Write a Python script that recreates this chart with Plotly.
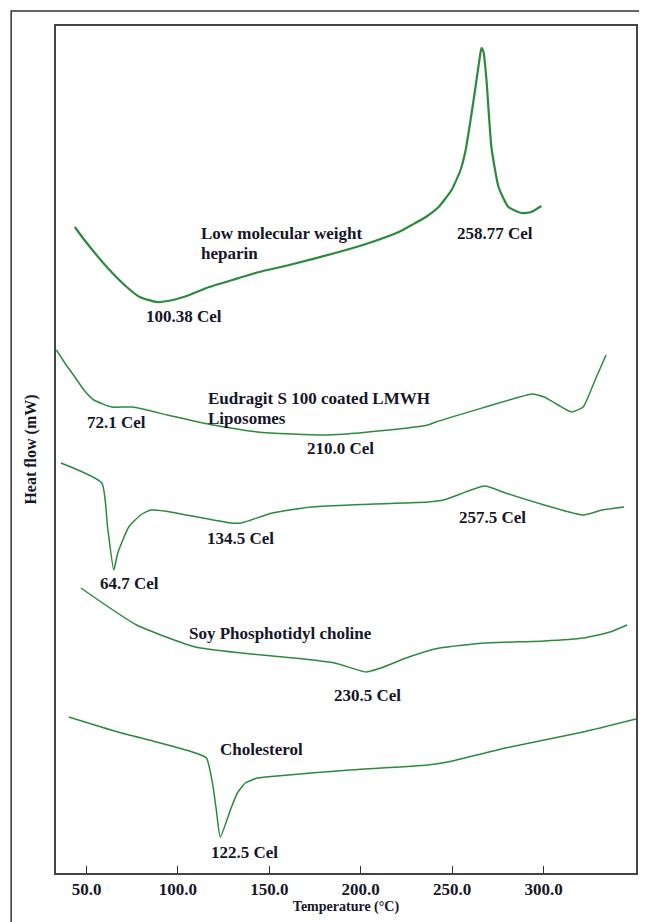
import plotly.graph_objects as go

# ---- data (temperature in deg C, heat flow in arbitrary mW units) ----
lmwh_t = [43.6, 48.0, 61.1, 72.0, 79.1, 88.3, 97.1, 106.3, 115.6, 129.8, 144.5, 160.9, 188.1,
          204.5, 220.8, 227.9, 235.6, 242.6, 249.7, 254.6, 257.4, 260.1, 262.8, 265.5, 266.1,
          267.2, 268.8, 271.5, 275.4, 280.8, 287.9, 293.3, 298.8]
lmwh_h = [64.6, 63.5, 60.6, 58.6, 57.6, 57.1, 57.3, 57.8, 58.5, 59.3, 60.1, 60.8, 62.1,
          63.0, 64.1, 64.8, 65.6, 66.6, 68.3, 70.3, 72.3, 75.3, 78.6, 82.0, 82.5,
          82.1, 79.3, 72.6, 68.6, 66.6, 66.0, 66.1, 66.7]

eud_t = [33.5, 38.5, 43.6, 49.0, 54.0, 63.8, 75.2, 94.3, 113.4, 143.4, 181.6, 215.4, 236.6, 241.0,
         268.3, 285.0, 293.9, 300.4, 308.0, 315.2, 321.7, 328.0, 334.2]
eud_h = [52.3, 50.9, 49.6, 48.2, 47.3, 46.6, 46.6, 45.8, 45.0, 44.1, 43.8, 44.3, 44.8, 45.1,
         46.6, 47.5, 47.9, 47.6, 46.8, 46.1, 46.6, 49.2, 51.8]

lipo_t = [36.0, 58.3, 61.5, 64.9, 67.1, 73.1, 79.6, 85.1, 92.7, 128.7, 134.7, 151.6, 172.8,
          194.1, 236.6, 245.4, 267.8, 279.2, 300.4, 321.7, 332.1, 344.1]
lipo_h = [41.0, 39.0, 34.6, 30.3, 32.0, 34.6, 35.8, 36.3, 36.2, 35.0, 35.0, 36.0, 36.6,
          36.8, 37.1, 37.3, 38.7, 38.0, 36.8, 35.8, 36.3, 36.6]

spc_t = [46.9, 77.4, 109.6, 134.7, 169.0, 185.9, 202.9, 211.0, 226.3, 243.2, 268.3, 300.4,
         321.7, 336.4, 345.7]
spc_h = [28.5, 24.8, 22.6, 22.0, 21.4, 21.0, 20.1, 20.5, 21.6, 22.5, 23.0, 23.2,
         23.5, 24.1, 24.8]

chol_t = [40.3, 67.1, 88.3, 109.6, 115.6, 118.9, 121.0, 123.2, 128.7, 132.5, 136.9, 143.4,
          147.8, 172.8, 194.1, 236.6, 247.5, 279.2, 321.7, 350.6]
chol_h = [15.6, 14.1, 13.1, 12.0, 11.5, 9.0, 6.3, 3.6, 6.3, 8.0, 9.0, 9.5,
          9.6, 10.0, 10.3, 10.8, 11.1, 12.5, 14.1, 15.4]

tick_vals = [50, 100, 150, 200, 250, 300]
tick_text = ["50.0", "100.0", "150.0", "200.0", "250.0", "300.0"]

# labels: (text, temperature, heat flow, anchor)
labels = [
    ("Low molecular weight", 111.8, 64.0, "left"),
    ("heparin", 111.8, 62.0, "left"),
    ("258.77 Cel", 273.7, 64.0, "center"),
    ("100.38 Cel", 103.1, 55.7, "center"),
    ("Eudragit S 100 coated LMWH", 115.6, 47.5, "left"),
    ("Liposomes", 115.6, 45.5, "left"),
    ("72.1 Cel", 66.5, 45.1, "center"),
    ("210.0 Cel", 189.2, 42.5, "center"),
    ("134.5 Cel", 134.1, 33.5, "center"),
    ("64.7 Cel", 73.6, 29.0, "center"),
    ("257.5 Cel", 272.1, 35.6, "center"),
    ("Soy Phosphotidyl choline", 105.2, 24.0, "left"),
    ("230.5 Cel", 203.9, 17.8, "center"),
    ("Cholesterol", 122.1, 12.4, "left"),
    ("122.5 Cel", 136.3, 2.1, "center"),
]

GREEN = "#2b8a3e"
TXT = "#16162a"
FONT = "Liberation Serif"

fig = go.Figure()
for t, h, w in [(lmwh_t, lmwh_h, 2.2), (eud_t, eud_h, 1.5), (lipo_t, lipo_h, 1.5),
                (spc_t, spc_h, 1.5), (chol_t, chol_h, 1.5)]:
    fig.add_trace(go.Scatter(x=t, y=h, mode="lines",
                             line=dict(color=GREEN, width=w, shape="spline", smoothing=0.5),
                             showlegend=False, hoverinfo="skip"))

for text, t, h, anc in labels:
    fig.add_annotation(x=t, y=h, xref="x", yref="y", text="<b>%s</b>" % text,
                       showarrow=False, xanchor=anc, yanchor="middle",
                       font=dict(family=FONT, size=17, color=TXT))

# outer frame of the picture
fig.add_shape(type="rect", xref="paper", yref="paper", x0=-0.0773, x1=1.2, y0=-0.2, y1=1.0177,
              line=dict(color="#333", width=1.5), fillcolor="rgba(0,0,0,0)", layer="below")

fig.update_layout(
    width=639, height=914,
    margin=dict(l=48, r=9, t=18, b=49),
    paper_bgcolor="white", plot_bgcolor="white",
    xaxis=dict(range=[33.3, 350.6], tickvals=tick_vals,
               ticktext=["<b>%s</b>" % s for s in tick_text],
               ticks="inside", ticklen=7, tickcolor="#333", tickwidth=1.3,
               showline=True, linecolor="#444", linewidth=1.5, mirror=True,
               showgrid=False, zeroline=False,
               tickfont=dict(family=FONT, size=17, color=TXT),
               title=dict(text="<b>Temperature (°C)</b>", standoff=2,
                          font=dict(family=FONT, size=14, color=TXT))),
    yaxis=dict(range=[0, 84.7], showticklabels=False, ticks="",
               showline=True, linecolor="#444", linewidth=1.5, mirror=True,
               showgrid=False, zeroline=False,
               title=dict(text="<b>Heat flow (mW)</b>", standoff=14,
                          font=dict(family=FONT, size=16, color=TXT))),
)

fig.write_html("out.html")
